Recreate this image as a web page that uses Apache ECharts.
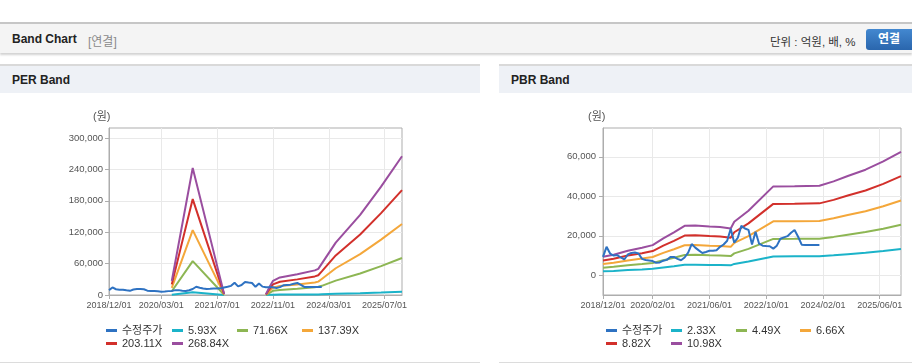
<!DOCTYPE html>
<html><head><meta charset="utf-8">
<script src="https://cdn.jsdelivr.net/npm/echarts@6/dist/echarts.min.js"></script>
<style>
body{margin:0;width:912px;height:364px;overflow:hidden;background:#fff;position:relative;font-family:"Liberation Sans","Noto Sans CJK KR",sans-serif}
.bar{position:absolute;left:0;top:22px;width:912px;height:29px;background:#f4f4f4;border-top:2px solid #c6c6c6;box-shadow:0 2px 2px rgba(0,0,0,0.18)}
.t1{position:absolute;left:12px;top:8px;font-weight:bold;font-size:12px;color:#222}
.t2{position:absolute;left:88px;top:8px;font-size:12px;color:#8a8a8a}
.unit{position:absolute;left:770px;top:9px;font-size:11.5px;color:#333}
.btn{position:absolute;left:866px;top:5px;width:50px;height:21px;border-radius:3px;background:linear-gradient(#4388d0,#2a66ad);color:#fff;font-weight:bold;font-size:12px;line-height:21px;text-indent:12px}
.ph{position:absolute;top:64px;height:27px;background:#eef1f6;border-top:2px solid #d9d9d9}
.ph span{position:absolute;left:12px;top:7px;font-weight:bold;font-size:12px;color:#222}
.bl{position:absolute;top:362px;height:1px;background:#dcdcdc}
#c{position:absolute;left:0;top:0;width:912px;height:364px}
</style></head>
<body>
<div class="bar"><span class="t1">Band Chart</span><span class="t2">[연결]</span><span class="unit">단위 : 억원, 배, %</span><div class="btn">연결</div></div>
<div class="ph" style="left:0;width:480px"><span>PER Band</span></div>
<div class="ph" style="left:499px;width:413px"><span>PBR Band</span></div>
<div class="bl" style="left:0;width:480px"></div>
<div class="bl" style="left:499px;width:413px"></div>
<div id="c"></div>
<script>
const months = [
'2018/12/01',
'2019/01/01','2019/02/01','2019/03/01','2019/04/01','2019/05/01','2019/06/01','2019/07/01','2019/08/01','2019/09/01','2019/10/01','2019/11/01','2019/12/01',
'2020/01/01','2020/02/01','2020/03/01','2020/04/01','2020/05/01','2020/06/01','2020/07/01','2020/08/01','2020/09/01','2020/10/01','2020/11/01','2020/12/01',
'2021/01/01','2021/02/01','2021/03/01','2021/04/01','2021/05/01','2021/06/01','2021/07/01','2021/08/01','2021/09/01','2021/10/01','2021/11/01','2021/12/01',
'2022/01/01','2022/02/01','2022/03/01','2022/04/01','2022/05/01','2022/06/01','2022/07/01','2022/08/01','2022/09/01','2022/10/01','2022/11/01','2022/12/01',
'2023/01/01','2023/02/01','2023/03/01','2023/04/01','2023/05/01','2023/06/01','2023/07/01','2023/08/01','2023/09/01','2023/10/01','2023/11/01','2023/12/01',
'2024/01/01','2024/02/01','2024/03/01','2024/04/01','2024/05/01','2024/06/01','2024/07/01','2024/08/01','2024/09/01','2024/10/01','2024/11/01','2024/12/01',
'2025/01/01','2025/02/01','2025/03/01','2025/04/01','2025/05/01','2025/06/01','2025/07/01','2025/08/01','2025/09/01','2025/10/01','2025/11/01','2025/12/01'
];
const perXTicks = ['2018/12/01','2020/03/01','2021/07/01','2022/11/01','2024/03/01','2025/07/01'];
const pbrXTicks = ['2018/12/01','2020/02/01','2021/06/01','2022/10/01','2024/02/01','2025/06/01'];
const perYTicks = [0,60000,120000,180000,240000,300000];
const pbrYTicks = [0,20000,40000,60000];

// 수정주가 (monthly)
const price = [9300,14400,11000,10000,10200,9000,8000,10500,11300,11500,11000,8300,7700,7500,7200,6300,6500,7400,7800,9300,9300,8300,7600,9000,11500,15800,14000,12600,11300,11800,12400,12400,12700,14400,15600,17500,23500,16500,19000,25000,23700,23000,15600,22000,16000,15000,14800,14700,13500,15000,18500,19200,19800,21500,22900,19500,15500,15300,15300,15300,15300,15300,
null,null,null,null,null,null,null,null,null,null,null,null,null,null,null,null,null,null,null,null,null,null,null];

// PER band points
const perDates = ['2020/06/01','2020/12/01','2021/09/01','2022/03/01','2022/09/01','2022/10/01','2022/11/01','2023/01/01','2023/06/01','2023/11/01','2023/12/01','2024/01/01','2024/05/01','2024/12/01','2025/06/01','2025/12/01'];
const per593  = [590,5350,50,null,30,330,590,740,870,1040,1100,1320,2210,3370,4570,6000];
const per7166 = [7170,64600,570,null,360,4010,8000,9500,12000,15000,16000,17500,27500,41000,55200,70700];
const per13739= [13740,123900,1100,null,690,7690,13740,17170,20200,24040,25550,30640,51110,78170,105790,135500];
const per20311= [20310,183200,1620,null,1020,11370,20310,25390,29860,35540,37780,45290,75560,115570,156390,200300];
const per26884= [26880,242500,2150,null,1340,15060,26880,33610,39520,47050,50000,59950,100010,152970,207010,265100];

// PBR band points
const pbrDates = ['2018/12/01','2019/03/01','2019/07/01','2019/11/01','2020/02/01','2020/05/01','2020/08/01','2020/11/01','2021/02/01','2021/06/01','2021/09/01','2021/12/01','2022/01/01','2022/05/01','2022/12/01','2023/06/01','2024/01/01','2024/05/01','2024/09/01','2025/02/01','2025/07/01','2025/12/01'];
const pbr233  = [1980,2210,2630,2960,3240,3960,4610,5310,5360,5240,5200,5030,5760,6940,9550,9580,9620,10090,10670,11350,12230,13260];
const pbr449  = [3820,4270,5070,5700,6240,7630,8890,10240,10330,10100,10010,9700,11090,13380,18410,18450,18540,19440,20560,21870,23570,25550];
const pbr666  = [5660,6330,7530,8460,9260,11320,13190,15180,15320,14990,14850,14390,16450,19850,27310,27370,27510,28840,30500,32430,34970,37900];
const pbr882  = [7500,8380,9970,11200,12260,14990,17460,20110,20290,19850,19670,19050,21790,26280,36160,36250,36430,38190,40400,42950,46310,50190];
const pbr1098 = [9330,10430,12410,13940,15260,18670,21740,25030,25250,24710,24490,23720,27120,32720,45020,45130,45350,47540,50290,53470,57650,62480];

const C = {blue:'#2e72c2', cyan:'#1bb3c9', green:'#8db653', orange:'#f4a73a', red:'#d2302b', purple:'#9a4e9f'};
const FONT = '"Liberation Sans","Noto Sans CJK KR",sans-serif';
const AX = '#adadad', GRID = '#e9e9e9', LBL = '#555';

function pairs(dates, vals){ return dates.map((d,k)=>[d, vals[k]===null ? '-' : vals[k]]); }
function line(name, data, color, i, z){
  return {type:'line', name:name, data:data, xAxisIndex:i, yAxisIndex:i, symbol:'none', showSymbol:false,
    lineStyle:{width:2, color:color}, itemStyle:{color:color}, z:z||2, emphasis:{disabled:true}, silent:true};
}
function xAx(i, ticks){
  const f = (idx, v) => ticks.indexOf(v) >= 0;
  return {type:'category', gridIndex:i, data:months, boundaryGap:false,
    axisLine:{onZero:false, lineStyle:{color:AX}},
    axisTick:{interval:f, length:4, lineStyle:{color:AX}},
    axisLabel:{interval:f, color:LBL, fontSize:9, margin:6, fontFamily:FONT},
    splitLine:{show:true, interval:f, lineStyle:{color:GRID}}};
}
function yAx(i, min, max, ticks, margin){
  return {type:'value', gridIndex:i, min:min, max:max,
    axisLine:{show:true, lineStyle:{color:AX}},
    axisTick:{show:true, length:4, customValues:ticks, lineStyle:{color:AX}},
    axisLabel:{customValues:ticks, color:LBL, fontSize:9.5, margin:margin, fontFamily:FONT,
      formatter:v => Number(v).toLocaleString('en-US')},
    splitLine:{show:true, lineStyle:{color:GRID}}};
}
function leg(name, left, top){
  return {data:[name], left:left, top:top, padding:0, itemWidth:11, itemHeight:3, icon:'rect', selectedMode:false,
    textStyle:{fontSize:11, color:'#333', fontFamily:FONT}};
}

const chart = echarts.init(document.getElementById('c'));
chart.setOption({
  animation:false,
  grid:[
    {left:109, top:128, width:293, height:167, show:true, borderColor:AX, borderWidth:1, backgroundColor:'#fff'},
    {left:603, top:128, width:298, height:167, show:true, borderColor:AX, borderWidth:1, backgroundColor:'#fff'}
  ],
  xAxis:[xAx(0, perXTicks), xAx(1, pbrXTicks)],
  yAxis:[yAx(0, 0, 319000, perYTicks, 6), yAx(1, -10000, 74600, pbrYTicks, 7)],
  legend:[
    leg('수정주가',106,325), leg('5.93X',172,325), leg('71.66X',237,325), leg('137.39X',302,325),
    leg('203.11X',106,338), leg('268.84X',172,338),
    leg('수정주가',606,325), leg('2.33X',671,325), leg('4.49X',736,325), leg('6.66X',800,325),
    leg('8.82X',606,338), leg('10.98X',671,338)
  ],
  graphic:[
    {type:'text', left:93, top:111, style:{text:'(원)', fontSize:11, fill:'#555', fontFamily:FONT}},
    {type:'text', left:588, top:111, style:{text:'(원)', fontSize:11, fill:'#555', fontFamily:FONT}}
  ],
  series:[
    line('5.93X', pairs(perDates, per593), C.cyan, 0),
    line('71.66X', pairs(perDates, per7166), C.green, 0),
    line('137.39X', pairs(perDates, per13739), C.orange, 0),
    line('203.11X', pairs(perDates, per20311), C.red, 0),
    line('268.84X', pairs(perDates, per26884), C.purple, 0),
    line('수정주가', price, C.blue, 0, 3),
    line('2.33X', pairs(pbrDates, pbr233), C.cyan, 1),
    line('4.49X', pairs(pbrDates, pbr449), C.green, 1),
    line('6.66X', pairs(pbrDates, pbr666), C.orange, 1),
    line('8.82X', pairs(pbrDates, pbr882), C.red, 1),
    line('10.98X', pairs(pbrDates, pbr1098), C.purple, 1),
    line('수정주가', price, C.blue, 1, 3)
  ]
});
</script>
</body></html>
